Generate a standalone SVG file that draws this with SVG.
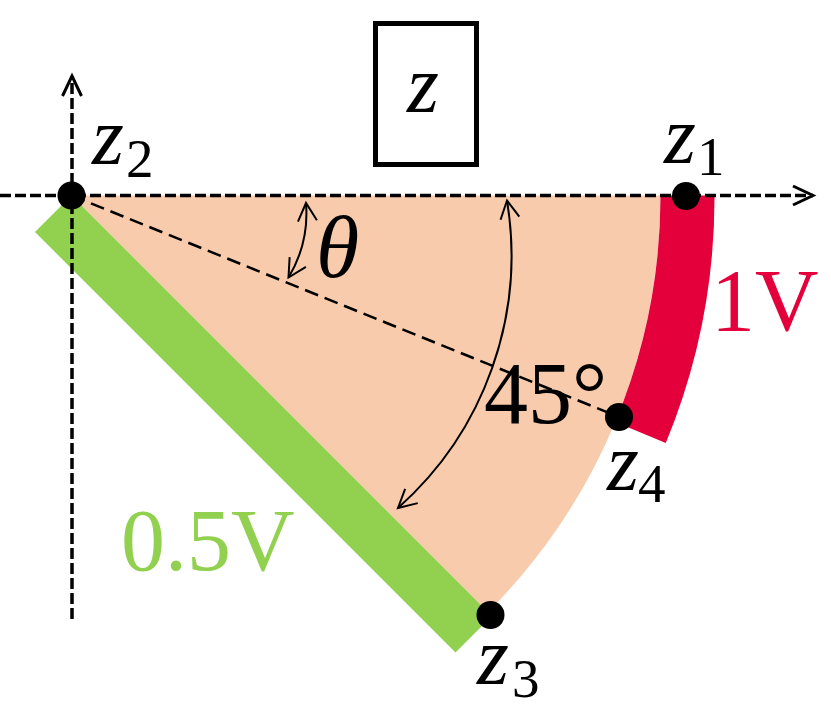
<svg xmlns="http://www.w3.org/2000/svg" width="831" height="714" viewBox="0 0 831 714">
<style>
.t{font-family:"Liberation Serif","Times New Roman",serif;fill:#000}
.i{font-style:italic}
.axis{fill:none;stroke:#000;stroke-width:3.5;stroke-dasharray:11 4}
.thin{fill:none;stroke:#000;stroke-width:2}
.dot{fill:#000}
</style>
<defs>
<marker id="ax" markerUnits="userSpaceOnUse" markerWidth="30" markerHeight="30" viewBox="-25 -15 30 30" refX="0" refY="0" orient="auto">
<path d="M-20 -9.5 L0 0 L-20 9.5" fill="none" stroke="#000" stroke-width="3" stroke-dasharray="none"/>
</marker>
<marker id="ar" markerUnits="userSpaceOnUse" markerWidth="30" markerHeight="30" viewBox="-25 -15 30 30" refX="0" refY="0" orient="auto-start-reverse">
<path d="M-18 -9.5 L0 0 L-18 9.5" fill="none" stroke="#000" stroke-width="2" stroke-dasharray="none"/>
</marker>
</defs>
<g id="wedge">
<path d="M71.5 195.5 L660.5 195.5 A589 589 0 0 1 488 612 Z" fill="#F8CBAD"/>
</g>
<g id="red-band">
<path d="M658 195.5 L714.5 195.5 A643 643 0 0 1 665.8 443 L615.3 421.9 A589 589 0 0 0 660.5 195.5 Z" fill="#E4003A"/>
</g>
<g id="green-band">
<polygon points="71.5,195.5 492,616 455.5,652.5 35,232" fill="#92D050"/>
</g>
<g id="connectors">
<line class="axis" x1="0" y1="195.5" x2="813" y2="195.5" marker-end="url(#ax)"/>
<line class="axis" x1="72" y1="619" x2="72" y2="76" marker-end="url(#ax)"/>
<line x1="71.5" y1="195.5" x2="619" y2="417" fill="none" stroke="#000" stroke-width="2.5" stroke-dasharray="14 7"/>
<path class="thin" d="M306 203 A125 125 0 0 1 288.5 277.5" marker-start="url(#ar)" marker-end="url(#ar)"/>
<path class="thin" d="M507 200.5 A338 338 0 0 1 398 508" marker-start="url(#ar)" marker-end="url(#ar)"/>
</g>
<g id="box-z">
<rect x="375.5" y="23.5" width="101" height="141" fill="#fff" stroke="#000" stroke-width="5"/>
<text class="t i" x="407" y="112" font-size="82">z</text>
</g>
<g id="z2">
<circle class="dot" cx="71.5" cy="195.5" r="14"/>
<text class="t i" x="92" y="164" font-size="82">z</text>
<text class="t" x="126" y="177" font-size="55">2</text>
</g>
<g id="z1">
<circle class="dot" cx="686" cy="196" r="14"/>
<text class="t i" x="664" y="163" font-size="82">z</text>
<text class="t" x="697" y="175" font-size="55">1</text>
</g>
<g id="z4">
<circle class="dot" cx="619" cy="417" r="14"/>
<text class="t i" x="607" y="490" font-size="82">z</text>
<text class="t" x="638" y="502" font-size="55">4</text>
</g>
<g id="z3">
<circle class="dot" cx="490.5" cy="615" r="14"/>
<text class="t i" x="477" y="684" font-size="82">z</text>
<text class="t" x="512" y="697" font-size="55">3</text>
</g>
<g id="labels">
<text class="t i" x="316" y="277" font-size="88">θ</text>
<text class="t" x="484" y="423" font-size="88">45°</text>
<text class="t" x="711" y="330" font-size="88" style="fill:#E4003A">1V</text>
<text class="t" x="121" y="570" font-size="88" style="fill:#92D050">0.5V</text>
</g>
</svg>
